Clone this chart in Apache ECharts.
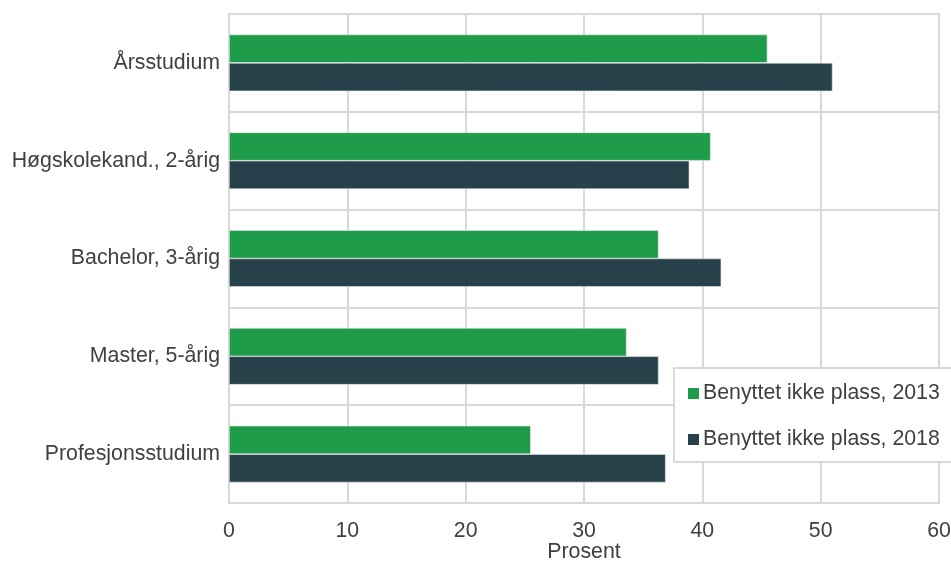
<!DOCTYPE html>
<html>
<head>
<meta charset="utf-8">
<script src="https://cdn.jsdelivr.net/npm/echarts@6/dist/echarts.min.js"></script>
<style>html,body{margin:0;padding:0;background:#fff;}#c{width:951px;height:561px;}</style>
</head>
<body>
<div id="c"></div>
<script>
var categories = ["Årsstudium", "Høgskolekand., 2-årig", "Bachelor, 3-årig", "Master, 5-årig", "Profesjonsstudium"];
var values2013 = [45.5, 40.7, 36.3, 33.6, 25.5];
var values2018 = [51.0, 38.9, 41.6, 36.3, 36.9];
var seriesNames = ["Benyttet ikke plass, 2013", "Benyttet ikke plass, 2018"];
var xTicks = [0, 10, 20, 30, 40, 50, 60];
var xAxisName = "Prosent";

var font = "Liberation Sans, Arial, sans-serif";
var gridColor = "#d9d9d9";
var textColor = "#404040";
var fs = 21.3;

var chart = echarts.init(document.getElementById('c'));
chart.setOption({
  animation: false,
  backgroundColor: '#fff',
  textStyle: { fontFamily: font },
  grid: {
    left: 229, right: 12, top: 14, bottom: 58,
    show: true, borderColor: gridColor, borderWidth: 2,
    containLabel: false, outerBoundsMode: 'none'
  },
  xAxis: {
    type: 'value', min: xTicks[0], max: xTicks[xTicks.length - 1], interval: 10,
    name: xAxisName, nameLocation: 'middle', nameGap: 39, nameMoveOverlap: false,
    nameTextStyle: { color: textColor, fontSize: fs, fontFamily: font },
    axisLine: { show: false }, axisTick: { show: false },
    axisLabel: { color: textColor, fontSize: fs, fontFamily: font, margin: 18 },
    splitLine: { show: true, lineStyle: { color: gridColor, width: 2 } }
  },
  yAxis: {
    type: 'category', data: categories, inverse: true,
    axisLine: { show: false }, axisTick: { show: false },
    axisLabel: { color: textColor, fontSize: fs, fontFamily: font, margin: 9 },
    splitLine: { show: true, lineStyle: { color: gridColor, width: 2 } }
  },
  legend: {
    orient: 'vertical', left: 674, top: 368,
    padding: [15, 20, 12, 14], itemGap: 25, itemWidth: 11, itemHeight: 11,
    icon: 'rect', backgroundColor: '#fff', borderColor: gridColor, borderWidth: 2,
    itemStyle: { borderWidth: 0 },
    textStyle: { color: textColor, fontSize: fs, fontFamily: font, padding: [0, 0, 0, -1] },
    data: seriesNames
  },
  series: [
    { name: seriesNames[0], type: 'bar', data: values2013, barGap: '0%', barCategoryGap: '42%',
      itemStyle: { color: '#1e9c4a', borderColor: '#e8efe9', borderWidth: 0.6 } },
    { name: seriesNames[1], type: 'bar', data: values2018, barGap: '0%', barCategoryGap: '42%',
      itemStyle: { color: '#27414a', borderColor: '#e3e6e8', borderWidth: 0.6 } }
  ]
});
</script>
</body>
</html>
